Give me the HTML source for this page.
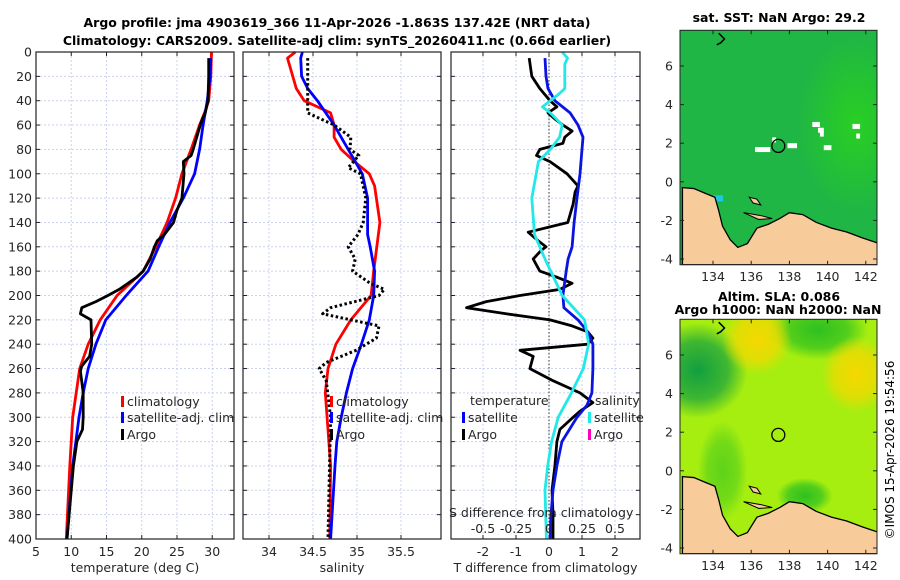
<!DOCTYPE html>
<html><head><meta charset="utf-8"><style>
html,body{margin:0;padding:0;background:#fff;}
svg{display:block;font-family:"DejaVu Sans","Liberation Sans",sans-serif;}
</style></head><body>
<svg id="fig" width="900" height="580" viewBox="0 0 900 580" xmlns="http://www.w3.org/2000/svg">
<text x="337" y="27" font-size="12.5" font-weight="bold" text-anchor="middle">Argo profile: jma 4903619_366 11-Apr-2026 -1.863S 137.42E (NRT data)</text>
<text x="337" y="45" font-size="12.5" font-weight="bold" text-anchor="middle">Climatology: CARS2009. Satellite-adj clim: synTS_20260411.nc (0.66d earlier)</text>
<g id="p1"></g>
<g id="p2"></g>
<g id="p3"></g>
<g id="m1"></g>
<g id="m2"></g>
<text transform="translate(894,450) rotate(-90)" font-size="12" text-anchor="middle">©IMOS 15-Apr-2026 19:54:56</text>
</svg>
<script>
// ---- data ----
const depthTicks = [0,20,40,60,80,100,120,140,160,180,200,220,240,260,280,300,320,340,360,380,400];
const tempTicks = [5,10,15,20,25,30];
const salTicks = [34,34.5,35,35.5];
const tdiffTicks = [-2,-1,0,1,2];
const sdiffTicks = [-0.5,-0.25,0,0.25,0.5];
const sdiffTickLabels = ["-0.5","-0.25","0","0.25","0.5"];
const latTicks = [6,4,2,0,-2,-4];
const lonTicks = [134,136,138,140,142];

const tClimDepth = [0,20,40,50,60,80,100,120,140,160,180,200,220,240,260,280,300,340,400];
const tClim      = [29.9,29.8,29.5,28.9,28.2,27.0,25.7,24.8,23.6,22.0,20.2,16.5,14.1,12.4,11.2,10.7,10.2,9.8,9.3];
const tSatDepth  = [5,20,40,50,60,80,100,120,140,160,180,200,220,240,260,280,300,340,400];
const tSat       = [29.8,29.7,29.3,29.0,28.7,28.2,27.5,25.9,24.0,22.4,20.9,17.8,14.9,13.5,12.4,11.7,11.1,10.2,9.4];
const tArgoDepth = [5,20,40,50,55,60,80,85,90,100,120,130,140,150,155,160,170,180,185,195,200,205,210,215,220,240,250,258,262,280,300,310,320,340,400];
const tArgo      = [29.5,29.5,29.4,29.0,28.6,28.3,27.3,27.0,25.9,26.0,25.7,25.0,24.5,23.2,22.2,21.8,21.2,20.2,19.3,16.8,15.2,13.5,11.5,11.3,12.8,12.9,12.6,11.5,11.3,11.7,11.7,11.6,10.8,10.3,9.4];

const sClimDepth = [0,5,30,40,50,60,70,80,90,100,110,140,180,200,220,240,260,280,300,340,400];
const sClim      = [34.30,34.21,34.31,34.40,34.70,34.74,34.74,34.82,34.97,35.14,35.20,35.26,35.19,35.16,34.93,34.76,34.67,34.64,34.66,34.70,34.69];
const sSatDepth  = [0,5,20,30,40,60,80,100,120,150,160,180,200,220,240,260,280,300,320,340,400];
const sSat       = [34.38,34.36,34.37,34.44,34.55,34.74,34.90,35.06,35.12,35.12,35.15,35.20,35.19,35.14,35.05,34.95,34.88,34.82,34.77,34.75,34.70];
const sArgoDepth = [5,50,55,60,70,80,85,95,100,120,140,150,160,170,180,190,195,200,210,215,225,235,245,255,260,270,300,400];
const sArgo      = [34.44,34.44,34.59,34.74,34.93,34.92,35.02,34.90,35.04,35.10,35.07,35.01,34.90,34.98,34.95,35.15,35.31,35.25,34.70,34.61,35.25,35.22,34.99,34.65,34.57,34.65,34.70,34.67];

const dtSatDepth = [5,20,30,40,50,60,70,80,100,120,140,160,170,180,200,210,220,230,240,260,280,290,300,320,340,360,380,400];
const dtSat      = [-0.12,-0.09,-0.03,0.18,0.64,0.88,1.03,1.0,0.94,0.85,0.76,0.70,0.58,0.52,0.42,0.45,0.88,1.18,1.33,1.33,1.30,1.15,0.85,0.39,0.24,0.12,0.06,0.03];
const dtArgoDepth = [5,20,30,40,45,50,55,60,65,70,75,80,85,90,100,110,115,125,140,148,155,160,163,170,175,180,185,190,195,200,205,210,215,220,225,230,235,240,245,250,260,270,280,288,295,300,310,320,340,360,380,400];
const dtArgo      = [-0.6,-0.52,-0.28,0.03,0.24,-0.03,0.18,0.42,0.70,0.48,0.42,-0.28,-0.38,0.03,0.55,0.88,0.79,0.73,0.57,-0.63,-0.33,-0.09,-0.24,-0.48,-0.38,-0.28,0.24,0.70,0.33,-0.88,-1.9,-2.5,-1.3,0.03,0.70,1.18,1.33,1.18,-0.88,-0.48,-0.58,0.12,0.94,1.33,0.94,0.73,0.33,0.24,0.18,0.09,0.12,0.12];
const dsSatDepth = [0,5,10,20,30,35,40,45,50,60,70,80,90,120,150,170,200,220,240,260,280,300,320,340,360,400];
const dsSat      = [0.10,0.14,0.12,0.12,0.12,0.07,0.01,-0.05,0.01,0.10,0.08,0.01,-0.08,-0.13,-0.11,-0.03,0.10,0.27,0.30,0.26,0.17,0.07,0.02,-0.01,-0.03,-0.02];

// ---- helpers ----
const NS="http://www.w3.org/2000/svg";
function mk(parent,tag,attrs){const e=document.createElementNS(NS,tag);for(const k in attrs)e.setAttribute(k,attrs[k]);parent.appendChild(e);return e;}
function txt(parent,x,y,s,attrs){const e=mk(parent,'text',Object.assign({x:x,y:y,'font-size':12.5,fill:'#262626'},attrs||{}));e.textContent=s;return e;}
const Y0=52, YK=(539-52)/400;
const yD = d => Y0 + d*YK;
const xT = t => 36 + (t-5)*7.05;
const xS = s => 269 + (s-34)*88;
const xDT = v => 549 + v*33;
const xDS = v => 549 + v*132;

function panel(g,x0,x1,xticks,xf,labels,xlabel,showY){
  mk(g,'rect',{x:x0,y:Y0,width:x1-x0,height:539-Y0,fill:'#fff'});
  depthTicks.forEach(d=>{
    const l=mk(g,'line',{x1:x0,x2:x1,y1:yD(d),y2:yD(d),stroke:'#c9d1ee','stroke-dasharray':'2,2','stroke-width':1});
    
    
    mk(g,'line',{x1:x0,x2:x0+4,y1:yD(d),y2:yD(d),stroke:'#222'});
    mk(g,'line',{x1:x1-4,x2:x1,y1:yD(d),y2:yD(d),stroke:'#222'});
    if(showY){const t=txt(g,x0-4,yD(d)+4.5,String(d),{'text-anchor':'end'});
      
      }
  });
  xticks.forEach((v,i)=>{
    const x=xf(v);
    mk(g,'line',{x1:x,x2:x,y1:Y0,y2:539,stroke:'#c9d1ee','stroke-dasharray':'2,2'});
    mk(g,'line',{x1:x,x2:x,y1:539,y2:535,stroke:'#222'});
    mk(g,'line',{x1:x,x2:x,y1:Y0,y2:Y0+4,stroke:'#222'});
    const t=txt(g,x,556,labels[i],{'text-anchor':'middle'});
    
    
  });
  const xl=txt(g,(x0+x1)/2,572,xlabel,{'text-anchor':'middle'});
  
  
}
function frame(g,x0,x1){mk(g,'rect',{x:x0,y:Y0,width:x1-x0,height:539-Y0,fill:'none',stroke:'#222','stroke-width':1.2});}
function line(g,ds,vs,xf,color,dash,name){
  const pts=ds.map((d,i)=>xf(vs[i]).toFixed(1)+','+yD(d).toFixed(1)).join(' ');
  const p=mk(g,'polyline',{points:pts,fill:'none',stroke:color,'stroke-width':dash?3:2.8,'stroke-linejoin':'round'});
  if(dash)p.setAttribute('stroke-dasharray',dash);
  
  
}
function leg(g,x,y,color,label){
  mk(g,'rect',{x:x,y:y-9,width:3,height:11,fill:color});
  const t=txt(g,x+6,y+1,label,{});
  
  
}

// panel 1
const p1=document.getElementById('p1');
panel(p1,36,234,tempTicks,xT,tempTicks.map(String),'temperature (deg C)',true);
line(p1,tClimDepth,tClim,xT,'#ff0000',null,'climatology-temperature-line');
line(p1,tSatDepth,tSat,xT,'#0000ff',null,'satellite-temperature-line');
line(p1,tArgoDepth,tArgo,xT,'#000',null,'argo-temperature-line');
frame(p1,36,234);
leg(p1,121,405,'#f00','climatology');leg(p1,121,421,'#00f','satellite-adj. clim');leg(p1,121,438,'#000','Argo');

// panel 2
const p2=document.getElementById('p2');
panel(p2,243,441,salTicks,xS,salTicks.map(String),'salinity',false);
line(p2,sClimDepth,sClim,xS,'#f00',null,'climatology-salinity-line');
line(p2,sSatDepth,sSat,xS,'#00f',null,'satellite-salinity-line');
line(p2,sArgoDepth,sArgo,xS,'#000','2.5,2.5','argo-salinity-line');
frame(p2,243,441);
leg(p2,330,405,'#f00','climatology');leg(p2,330,421,'#00f','satellite-adj. clim');leg(p2,330,438,'#000','Argo');

// panel 3
const p3=document.getElementById('p3');
panel(p3,451,640,tdiffTicks,xDT,tdiffTicks.map(String),'T difference from climatology',false);
mk(p3,'line',{x1:549,x2:549,y1:Y0,y2:539,stroke:'#333','stroke-dasharray':'1.5,2','stroke-width':1});
line(p3,dtArgoDepth,dtArgo,xDT,'#000',null,'argo-tdiff-line');
line(p3,dtSatDepth,dtSat,xDT,'#0a14e0',null,'satellite-tdiff-line');
line(p3,dsSatDepth,dsSat,xDS,'#22e8e8',null,'satellite-sdiff-line');
frame(p3,451,640);
txt(p3,470,405,'temperature',{});
leg(p3,462,421,'#00f','satellite');leg(p3,462,438,'#000','Argo');
txt(p3,595,405,'salinity',{});
leg(p3,588,421,'#22e8e8','satellite');leg(p3,588,438,'#ff00c0','Argo');
txt(p3,449,517,'S difference from climatology',{});
sdiffTicks.forEach((v,i)=>{const t=txt(p3,xDS(v),533,sdiffTickLabels[i],{'text-anchor':'middle'});
  
  });

// ---- maps ----
const mx = lon => 713 + (lon-134)*19.1;
const coast = [[132.4,-0.3],[133.0,-0.35],[133.6,-0.6],[134.1,-0.8],[134.3,-1.5],[134.5,-2.3],[134.9,-3.0],[135.3,-3.4],[135.8,-3.2],[136.3,-2.4],[136.9,-2.2],[137.5,-1.9],[138.0,-1.6],[138.7,-1.7],[139.4,-2.1],[140.2,-2.4],[141.0,-2.6],[141.8,-2.9],[142.7,-3.2],[142.7,-4.3],[132.4,-4.3]];
const biak = [[135.9,-0.8],[136.3,-0.9],[136.5,-1.2],[136.1,-1.1]];
const yapen = [[135.6,-1.6],[136.5,-1.75],[137.1,-1.9],[136.4,-1.95]];
function map(g,top,bg,extra){
  const my = lat => top + (6-lat)*19.3;
  const yTop = my(7.85), yBot = my(-4.3);
  const cid='clip'+top;
  const cp=mk(g,'clipPath',{id:cid});mk(cp,'rect',{x:680,y:yTop,width:197,height:yBot-yTop});
  const inner=mk(g,'g',{'clip-path':'url(#'+cid+')'});
  mk(inner,'rect',{x:680,y:yTop,width:197,height:yBot-yTop,fill:bg});
  extra(inner,my);
  const lp=mk(inner,'polygon',{points:coast.map(p=>mx(p[0])+','+my(p[1])).join(' '),fill:'#f8cb9b',stroke:'#000','stroke-width':1.3});
  
  
  [biak,yapen].forEach(is=>mk(inner,'polygon',{points:is.map(p=>mx(p[0])+','+my(p[1])).join(' '),fill:'#f8cb9b',stroke:'#000','stroke-width':1}));
  mk(inner,'polyline',{points:[[134.3,7.7],[134.6,7.4],[134.4,7.2],[134.2,7.1]].map(p=>mx(p[0])+','+my(p[1])).join(' '),fill:'none',stroke:'#000','stroke-width':1.5});
  const c=mk(inner,'circle',{cx:mx(137.42),cy:my(1.86),r:6.5,fill:'none',stroke:'#000','stroke-width':1.3});
  
  
  mk(g,'rect',{x:680,y:yTop,width:197,height:yBot-yTop,fill:'none',stroke:'#222','stroke-width':1});
  latTicks.forEach(v=>{mk(g,'line',{x1:680,x2:684,y1:my(v),y2:my(v),stroke:'#222'});mk(g,'line',{x1:873,x2:877,y1:my(v),y2:my(v),stroke:'#222'});
    const t=txt(g,673,my(v)+4.5,String(v),{'text-anchor':'end'});
    
    });
  lonTicks.forEach(v=>{mk(g,'line',{x1:mx(v),x2:mx(v),y1:yBot,y2:yBot-4,stroke:'#222'});mk(g,'line',{x1:mx(v),x2:mx(v),y1:yTop,y2:yTop+4,stroke:'#222'});
    const t=txt(g,mx(v),yBot+16,String(v),{'text-anchor':'middle'});
    
    });
}
const m1=document.getElementById('m1');
map(m1,66,'#1fb645',(g,my)=>{
  const defs=mk(g,'defs',{});
  const rg=mk(defs,'radialGradient',{id:'gS'});mk(rg,'stop',{offset:'0','stop-color':'#2ad21e','stop-opacity':0.9});mk(rg,'stop',{offset:'1','stop-color':'#2ad21e','stop-opacity':0});
  mk(g,'ellipse',{cx:mx(141.5),cy:my(3),rx:60,ry:90,fill:'url(#gS)'});
  mk(g,'rect',{x:mx(133.9),y:my(-0.7),width:12,height:6,fill:'#1ec8e0'});
  [[136.2,1.8,0.8],[137.9,2.0,0.5],[139.2,3.1,0.4],[139.8,1.9,0.4],[141.3,3.0,0.4],[141.5,2.5,0.2],[137.1,2.3,0.2],[139.5,2.8,0.3],[139.6,2.6,0.2]].forEach(w=>
    mk(g,'rect',{x:mx(w[0]),y:my(w[1]),width:w[2]*19.1,height:5,fill:'#fff'}));
});
const t1=txt(m1,779,22,'sat. SST: NaN Argo: 29.2',{'text-anchor':'middle','font-weight':'bold','fill':'#000'});

const m2=document.getElementById('m2');
map(m2,355,'#a6ee10',(g,my)=>{
  const defs=mk(g,'defs',{});
  [['gA','#129f40'],['gB','#f5d800'],['gC','#2fc020']].forEach(c=>{const rg=mk(defs,'radialGradient',{id:c[0]});mk(rg,'stop',{offset:'0','stop-color':c[1],'stop-opacity':1});mk(rg,'stop',{offset:'0.6','stop-color':c[1],'stop-opacity':0.7});mk(rg,'stop',{offset:'1','stop-color':c[1],'stop-opacity':0});});
  mk(g,'ellipse',{cx:mx(133.2),cy:my(5.2),rx:50,ry:48,fill:'url(#gA)'});
  mk(g,'ellipse',{cx:mx(139.5),cy:my(7.3),rx:50,ry:30,fill:'url(#gC)'});
  mk(g,'ellipse',{cx:mx(136.3),cy:my(6.8),rx:35,ry:35,fill:'url(#gB)'});
  mk(g,'ellipse',{cx:mx(141.5),cy:my(5),rx:35,ry:38,fill:'url(#gB)'});
  mk(g,'ellipse',{cx:mx(134.5),cy:my(0),rx:25,ry:50,fill:'url(#gC)',opacity:0.6});
  mk(g,'ellipse',{cx:mx(138.8),cy:my(-1.3),rx:28,ry:18,fill:'url(#gC)'});
});
const t2=txt(m2,779,301,'Altim. SLA: 0.086',{'text-anchor':'middle','font-weight':'bold','fill':'#000'});

const t3=txt(m2,778,314,'Argo h1000: NaN h2000: NaN',{'text-anchor':'middle','font-weight':'bold','fill':'#000'});

</script>
</body></html>
